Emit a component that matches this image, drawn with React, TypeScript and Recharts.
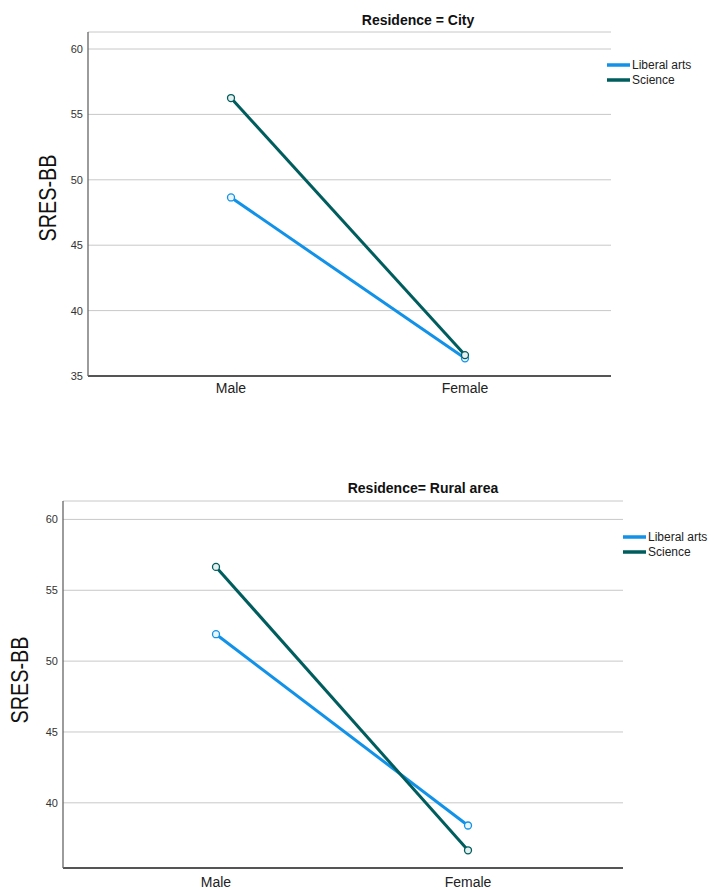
import React from 'react';
import { LineChart, Line, XAxis, YAxis, CartesianGrid, Legend } from 'recharts';

const genders = ['Male', 'Female'];
const seriesNames = ['Liberal arts', 'Science'];
const cityLiberalArts = [48.65, 36.35];
const cityScience = [56.25, 36.6];
const ruralLiberalArts = [51.9, 38.4];
const ruralScience = [56.65, 36.65];
const cityTicks = [35, 40, 45, 50, 55, 60];
const ruralTicks = [40, 45, 50, 55, 60];
const cityTitle = 'Residence = City';
const ruralTitle = 'Residence= Rural area';
const yLabel = 'SRES-BB';

const BLUE = '#1192e8';
const TEAL = '#005d5d';
const FONT = "Arial, 'Liberation Sans', sans-serif";

const buildData = (la: number[], sc: number[]) =>
  genders.map((g, i) => ({ gender: g, liberal: la[i], science: sc[i] }));

const cityData = buildData(cityLiberalArts, cityScience);
const ruralData = buildData(ruralLiberalArts, ruralScience);

const LegendContent = (props: any) => {
  const { payload } = props;
  return (
    <div>
      {(payload || []).map((p: any) => (
        <div key={p.value} style={{ display: 'flex', alignItems: 'center', height: 15 }}>
          <svg width={23} height={4} style={{ display: 'block' }}>
            <line x1={0} y1={2} x2={23} y2={2} stroke={p.color} strokeWidth={3.5} />
          </svg>
          <span style={{ marginLeft: 2, fontSize: 12, color: '#222', fontFamily: FONT, whiteSpace: 'nowrap' }}>
            {p.value}
          </span>
        </div>
      ))}
    </div>
  );
};

type PanelProps = {
  top: number;
  height: number;
  data: any[];
  margin: { top: number; right: number; bottom: number; left: number };
  domain: [number, number];
  ticks: number[];
  padding: { left: number; right: number };
  xTickMargin: number;
  title: string;
  titlePos: [number, number];
  yLabelPos: [number, number];
  legendPos: [number, number];
};

const Panel = (p: PanelProps) => (
  <div style={{ position: 'absolute', left: 0, top: p.top, width: 714, height: p.height }}>
    <LineChart width={714} height={p.height} data={p.data} margin={p.margin}>
      <CartesianGrid vertical={false} stroke="#c8c8c8" strokeWidth={1} />
      <XAxis
        dataKey="gender"
        height={20}
        padding={p.padding}
        tickLine={false}
        tickSize={0}
        tickMargin={p.xTickMargin}
        axisLine={{ stroke: '#555', strokeWidth: 2 }}
        tick={{ fontSize: 14, fill: '#222', fontFamily: FONT }}
      />
      <YAxis
        width={40}
        type="number"
        domain={p.domain}
        ticks={p.ticks}
        allowDataOverflow
        tickLine={false}
        tickSize={0}
        tickMargin={5}
        axisLine={{ stroke: '#666', strokeWidth: 1.3 }}
        tick={{ fontSize: 11, fill: '#333', fontFamily: FONT }}
      />
      <Legend
        layout="vertical"
        align="center"
        verticalAlign="middle"
        content={<LegendContent />}
        wrapperStyle={{ left: p.legendPos[0], top: p.legendPos[1], width: 110, height: 30 }}
      />
      <Line
        type="linear"
        dataKey="liberal"
        name={seriesNames[0]}
        stroke={BLUE}
        strokeWidth={3}
        dot={{ r: 3.5, fill: '#eaf5fd', stroke: BLUE, strokeWidth: 1.3 }}
        activeDot={false}
        isAnimationActive={false}
      />
      <Line
        type="linear"
        dataKey="science"
        name={seriesNames[1]}
        stroke={TEAL}
        strokeWidth={3}
        dot={{ r: 3.5, fill: '#e6f0f0', stroke: TEAL, strokeWidth: 1.3 }}
        activeDot={false}
        isAnimationActive={false}
      />
    </LineChart>
    <div
      style={{
        position: 'absolute',
        left: p.titlePos[0],
        top: p.titlePos[1],
        transform: 'translate(-50%, -50%)',
        fontFamily: FONT,
        fontWeight: 'bold',
        fontSize: 14,
        color: '#111',
        whiteSpace: 'nowrap',
      }}
    >
      {p.title}
    </div>
    <div
      style={{
        position: 'absolute',
        left: p.yLabelPos[0],
        top: p.yLabelPos[1],
        transform: 'translate(-50%, -50%) rotate(-90deg) scaleX(0.86)',
        fontFamily: FONT,
        fontSize: 23,
        color: '#111',
        whiteSpace: 'nowrap',
      }}
    >
      {yLabel}
    </div>
  </div>
);

export default function App() {
  return (
    <div style={{ position: 'absolute', left: 0, top: 0, width: 714, height: 890, background: '#fff', fontFamily: FONT }}>
      <Panel
        top={0}
        height={400}
        data={cityData}
        margin={{ top: 32, right: 103, bottom: 4, left: 48 }}
        domain={[35, 61.3]}
        ticks={cityTicks}
        padding={{ left: 143, right: 146 }}
        xTickMargin={7}
        title={cityTitle}
        titlePos={[418, 20]}
        yLabelPos={[48, 198]}
        legendPos={[607, 57.5]}
      />
      <Panel
        top={440}
        height={450}
        data={ruralData}
        margin={{ top: 61, right: 91, bottom: 2, left: 23 }}
        domain={[35.4, 61.3]}
        ticks={ruralTicks}
        padding={{ left: 153, right: 155 }}
        xTickMargin={9}
        title={ruralTitle}
        titlePos={[423, 48]}
        yLabelPos={[20, 240]}
        legendPos={[623, 89.5]}
      />
    </div>
  );
}
